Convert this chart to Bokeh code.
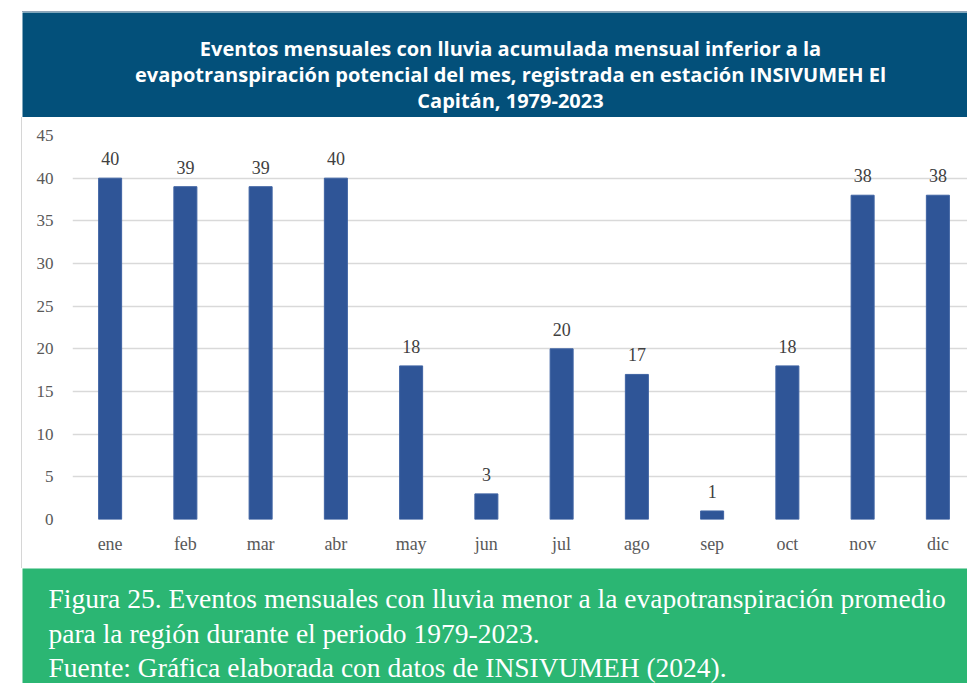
from bokeh.plotting import figure
from bokeh.layouts import column, row
from bokeh.models import Range1d, Label, FixedTicker, ColumnDataSource, Spacer
from bokeh.embed import file_html
from bokeh.resources import INLINE
from bokeh.core.properties import value

months = ["ene", "feb", "mar", "abr", "may", "jun", "jul", "ago", "sep", "oct", "nov", "dic"]
events = [40, 39, 39, 40, 18, 3, 20, 17, 1, 18, 38, 38]
y_ticks = [0, 5, 10, 15, 20, 25, 30, 35, 40, 45]
title_lines = [
    "Eventos mensuales con lluvia acumulada mensual inferior a la",
    "evapotranspiración potencial del mes, registrada en estación INSIVUMEH El",
    "Capitán, 1979-2023",
]
caption_lines = [
    "Figura 25. Eventos mensuales con lluvia menor a la evapotranspiración promedio",
    "para la región durante el periodo 1979-2023.",
    "Fuente: Gráfica elaborada con datos de INSIVUMEH (2024).",
]

W = 945          # width of the three stacked figures
LEFT = 50        # left border of the chart
BLUE_BANNER = "#03507A"
GREEN = "#2BB673"
BAR = "#2F5597"


def blank(height, bg):
    f = figure(width=W, height=height, output_backend="svg", toolbar_location=None,
               x_range=Range1d(0, W), y_range=Range1d(height, 0),
               min_border_left=0, min_border_right=0, min_border_top=0,
               min_border_bottom=0, x_axis_location=None, y_axis_location=None,
               background_fill_color=bg, border_fill_color=bg)
    f.grid.visible = False
    f.outline_line_color = None
    return f


# Banner
banner = blank(105, BLUE_BANNER)
banner.styles = {"box-shadow": "0 -1px 0 #8fa5b8"}
for line, base in zip(title_lines, [36, 62, 88]):
    banner.add_layout(Label(x=488, y=base, text=line, text_align="center",
                            text_baseline="alphabetic", text_color="white",
                            text_font="Open Sans", text_font_style="bold",
                            text_font_size="20px"))

# Chart
xs = list(range(len(months)))
src = ColumnDataSource(dict(x=xs, top=events, lab=[str(v) for v in events]))
p = figure(width=W, height=451, output_backend="svg", toolbar_location=None,
           x_range=Range1d(-0.5, -0.5 + (W - LEFT) / 75.25), y_range=Range1d(0, 45),
           min_border_left=LEFT, min_border_right=0, min_border_top=18, min_border_bottom=49,
           background_fill_color="white", border_fill_color="white")
p.styles = {"box-shadow": "-1px 0 0 #d6d6d6"}
p.outline_line_color = None
p.vbar(x="x", top="top", width=0.306, source=src, fill_color=BAR, line_color="#3f63a3", line_width=1)
p.text(x="x", y="top", text="lab", source=src, text_align="center", text_baseline="bottom",
       y_offset=-13, text_color="#404040", text_font=value("Liberation Serif"), text_font_size="18px")

p.xaxis.ticker = FixedTicker(ticks=xs)
p.xaxis.major_label_overrides = {i: m for i, m in enumerate(months)}
p.yaxis.ticker = FixedTicker(ticks=y_ticks)
for ax in (p.xaxis, p.yaxis):
    ax.axis_line_color = None
    ax.major_tick_line_color = None
    ax.minor_tick_line_color = None
    ax.major_label_text_font = "Liberation Serif"
    ax.major_label_text_color = "#595959"
p.xaxis.major_label_text_font_size = "18px"
p.yaxis.major_label_text_font_size = "17px"
p.xaxis.major_label_standoff = 8
p.yaxis.major_label_standoff = 13
p.xgrid.visible = False
p.ygrid.grid_line_color = "#d9d9d9"
p.ygrid.grid_line_width = 1.3

# Caption
cap = blank(115, GREEN)
for line, base in zip(caption_lines, [30, 65, 99]):
    cap.add_layout(Label(x=26, y=base, text=line, text_align="left",
                         text_baseline="alphabetic", text_color="white",
                         text_font="Liberation Serif", text_font_size="27.5px"))

stack = column(Spacer(width=W, height=12), row(banner), p, row(cap), spacing=0)
layout = row(Spacer(width=22, height=683), stack, spacing=0)
open("out.html", "w").write(file_html(layout, INLINE))
